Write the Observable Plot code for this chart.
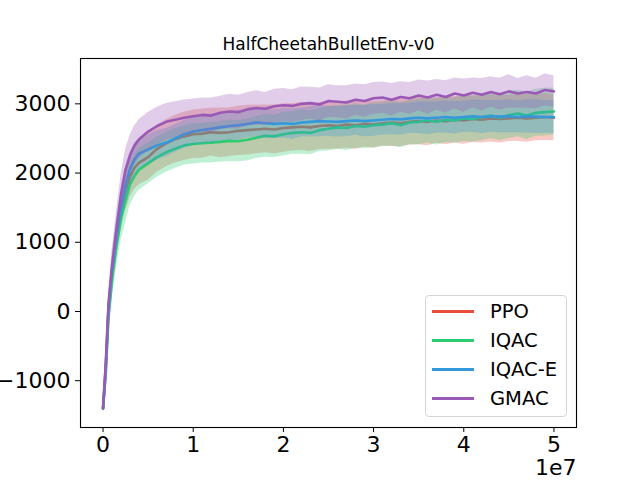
<!DOCTYPE html>
<html><head><meta charset="utf-8">
<script src="https://cdn.jsdelivr.net/npm/d3@7"></script>
<script src="https://cdn.jsdelivr.net/npm/@observablehq/plot@0.6"></script>
<style>
body{margin:0;background:#fff;font-family:"DejaVu Sans",sans-serif;}
#wrap{position:relative;width:640px;height:480px;}
#legend{position:absolute;left:425px;top:295px;width:142px;height:122px;border:1px solid #d5d5d5;border-radius:4px;background:rgba(255,255,255,0.8);box-sizing:border-box;padding-top:1px;}
.row{display:flex;align-items:center;height:29px;font-size:19.5px;color:#000;font-family:"DejaVu Sans",sans-serif;}
.sw{width:42px;height:2.5px;margin-left:6px;margin-right:16px;}
</style></head><body><div id="wrap"></div>
<script>
// x in units of 1e7 environment steps
const steps = [0, 0.03, 0.06, 0.1, 0.15, 0.2, 0.25, 0.3, 0.35, 0.4, 0.5, 0.6, 0.7, 0.8, 0.9,
  1.0, 1.1, 1.2, 1.3, 1.4, 1.5, 1.6, 1.7, 1.8, 1.9, 2.0, 2.1, 2.2, 2.3, 2.4, 2.5, 2.6, 2.7, 2.8, 2.9,
  3.0, 3.1, 3.2, 3.3, 3.4, 3.5, 3.6, 3.7, 3.8, 3.9, 4.0, 4.1, 4.2, 4.3, 4.4, 4.5, 4.6, 4.7, 4.8, 4.9, 5.0];

const seriesNames = ["PPO", "IQAC", "IQAC-E", "GMAC"];
const seriesColors = ["#e74c3c", "#2ecc71", "#3498db", "#9b59b6"];

const ppoMean = [-1400, -850, 0, 550, 1050, 1450, 1750, 1950, 2080, 2150, 2230, 2350, 2430, 2490, 2530,
  2560, 2570, 2590, 2580, 2590, 2610, 2620, 2630, 2640, 2630, 2650, 2660, 2670, 2660, 2680, 2690, 2680, 2700, 2690, 2710,
  2700, 2720, 2730, 2720, 2740, 2750, 2740, 2760, 2750, 2770, 2760, 2780, 2770, 2790, 2780, 2790, 2800, 2790, 2800, 2810, 2800];
const ppoStd = [20, 80, 150, 200, 240, 270, 290, 300, 310, 320, 330, 340, 340, 345, 350,
  350, 355, 345, 360, 350, 355, 360, 350, 345, 355, 350, 340, 345, 350, 340, 345, 335, 340, 345, 335,
  340, 330, 345, 340, 335, 340, 345, 330, 340, 335, 345, 340, 335, 340, 345, 335, 340, 345, 335, 340, 335];

const iqacMean = [-1400, -900, -100, 450, 950, 1350, 1600, 1840, 1960, 2050, 2140, 2230, 2300, 2350, 2400,
  2420, 2430, 2440, 2450, 2465, 2460, 2480, 2510, 2540, 2530, 2560, 2580, 2590, 2580, 2620, 2640, 2660, 2650, 2680, 2670,
  2690, 2700, 2720, 2690, 2730, 2740, 2760, 2740, 2770, 2760, 2790, 2780, 2810, 2830, 2800, 2840, 2860, 2830, 2870, 2880, 2890];
const iqacStd = [20, 100, 200, 260, 300, 320, 320, 310, 300, 300, 295, 290, 290, 285, 285,
  290, 285, 295, 290, 300, 295, 305, 300, 310, 305, 315, 310, 320, 315, 310, 320, 315, 325, 320, 315,
  325, 320, 330, 325, 320, 330, 325, 335, 330, 325, 335, 330, 340, 335, 330, 340, 335, 345, 340, 345, 340];

const iqaceMean = [-1400, -800, 50, 600, 1100, 1520, 1830, 2060, 2200, 2280, 2340, 2400, 2440, 2500, 2560,
  2600, 2620, 2640, 2660, 2680, 2690, 2710, 2730, 2720, 2710, 2720, 2710, 2730, 2740, 2750, 2745, 2740, 2750, 2760, 2750,
  2760, 2770, 2780, 2775, 2790, 2800, 2790, 2800, 2810, 2800, 2810, 2820, 2810, 2820, 2815, 2820, 2810, 2820, 2815, 2810, 2810];
const iqaceStd = [20, 80, 150, 200, 230, 250, 250, 240, 230, 220, 210, 210, 205, 200, 200,
  200, 205, 210, 200, 210, 215, 205, 210, 220, 210, 215, 220, 210, 220, 225, 215, 220, 225, 215, 225,
  230, 220, 225, 230, 220, 230, 235, 225, 230, 235, 225, 235, 240, 230, 235, 240, 230, 240, 245, 235, 240];

const gmacMean = [-1400, -750, 100, 650, 1200, 1700, 2050, 2260, 2400, 2490, 2600, 2680, 2740, 2770, 2800,
  2820, 2840, 2830, 2870, 2890, 2880, 2920, 2940, 2930, 2965, 2980, 2970, 3000, 3010, 2990, 3040, 3030, 3020, 3060, 3040,
  3080, 3090, 3060, 3100, 3080, 3120, 3090, 3130, 3100, 3150, 3120, 3160, 3130, 3170, 3140, 3180, 3150, 3170, 3150, 3200, 3180];
const gmacStd = [20, 100, 180, 230, 260, 280, 290, 290, 285, 280, 275, 270, 265, 260, 255,
  250, 245, 255, 240, 250, 245, 240, 250, 235, 245, 240, 235, 245, 230, 240, 235, 230, 240, 225, 235,
  230, 225, 235, 220, 230, 225, 240, 220, 235, 225, 240, 215, 235, 220, 230, 240, 215, 235, 220, 230, 225];

const xTicks = [0, 1, 2, 3, 4, 5];
const yTicks = [-1000, 0, 1000, 2000, 3000];
const titleText = "HalfCheetahBulletEnv-v0";
const offsetText = "1e7";

const means = [ppoMean, iqacMean, iqaceMean, gmacMean];
const stds = [ppoStd, iqacStd, iqaceStd, gmacStd];

const tables = seriesNames.map((name, k) =>
  steps.map((x, i) => ({x, mean: means[k][i], lo: means[k][i] - stds[k][i], hi: means[k][i] + stds[k][i]})));

const marks = [];
tables.forEach((t, k) => {
  marks.push(Plot.areaY(t, {x: "x", y1: "lo", y2: "hi", fill: seriesColors[k], fillOpacity: 0.3}));
  marks.push(Plot.lineY(t, {x: "x", y: "mean", stroke: seriesColors[k], strokeWidth: 2.6}));
});

const chart = Plot.plot({
  width: 640, height: 480,
  marginLeft: 80, marginRight: 64, marginTop: 58, marginBottom: 53,
  style: {fontFamily: "DejaVu Sans", background: "white", color: "black", overflow: "visible"},
  x: {domain: [-0.25, 5.25]},
  y: {domain: [-1676, 3655]},
  marks: [
    ...marks,
    Plot.frame({stroke: "black", strokeWidth: 1.1}),
    Plot.axisX({ticks: xTicks, tickFormat: d3.format("d"), label: null, fontSize: 22, tickSize: 5, tickPadding: 4}),
    Plot.axisY({ticks: yTicks, tickFormat: d3.format("d"), label: null, fontSize: 22, tickSize: 5, tickPadding: 5}),
    Plot.text([titleText], {text: d => d, frameAnchor: "top", lineAnchor: "bottom", dy: -9, fontSize: 17, fill: "black"}),
    Plot.text([offsetText], {text: d => d, frameAnchor: "bottom-right", textAnchor: "end", lineAnchor: "bottom", dy: 47, fontSize: 22, fill: "black"})
  ]
});

const wrap = document.getElementById("wrap");
wrap.appendChild(chart);
const legend = document.createElement("div");
legend.id = "legend";
seriesNames.forEach((name, k) => {
  const row = document.createElement("div");
  row.className = "row";
  const sw = document.createElement("span");
  sw.className = "sw";
  sw.style.background = seriesColors[k];
  const label = document.createElement("span");
  label.textContent = name;
  row.appendChild(sw);
  row.appendChild(label);
  legend.appendChild(row);
});
wrap.appendChild(legend);
</script></body></html>
